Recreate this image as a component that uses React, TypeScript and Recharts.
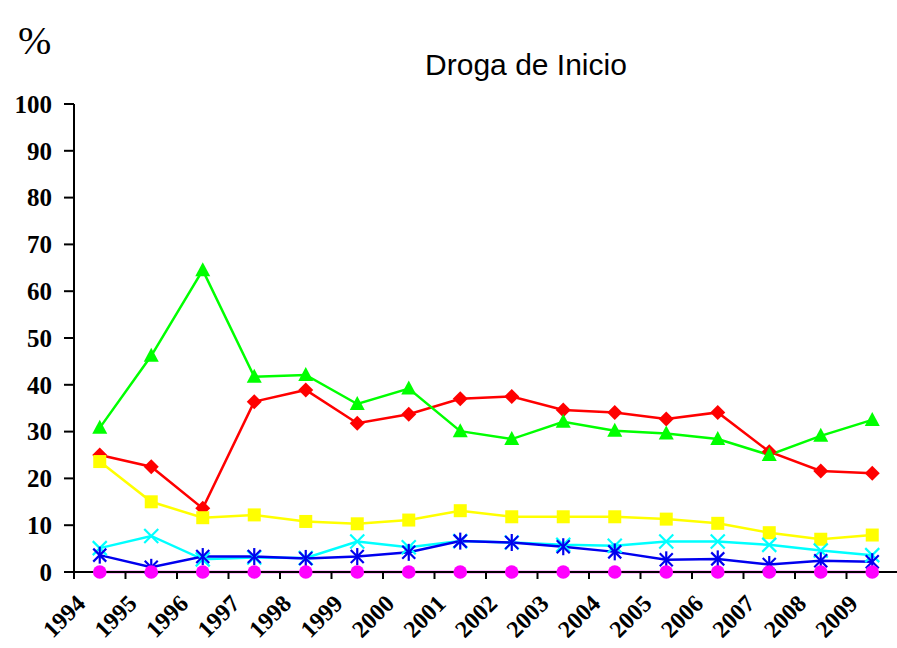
import { LineChart, Line, XAxis, YAxis } from "recharts";

const years = ["1994", "1995", "1996", "1997", "1998", "1999", "2000", "2001", "2002", "2003", "2004", "2005", "2006", "2007", "2008", "2009"];

const verde = [30.8, 46.2, 64.5, 41.7, 42.1, 35.9, 39.2, 30.1, 28.4, 32.1, 30.2, 29.6, 28.4, 25.0, 29.1, 32.5];
const rojo = [25.0, 22.5, 13.6, 36.4, 38.9, 31.8, 33.7, 37.0, 37.5, 34.6, 34.1, 32.7, 34.1, 25.7, 21.6, 21.1];
const amarillo = [23.6, 15.0, 11.6, 12.2, 10.8, 10.3, 11.1, 13.1, 11.8, 11.8, 11.8, 11.3, 10.4, 8.4, 7.0, 7.9];
const celeste = [5.1, 7.7, 2.7, 3.1, 3.0, 6.5, 5.3, 6.6, 6.3, 5.8, 5.6, 6.5, 6.5, 5.8, 4.6, 3.6];
const azul = [3.6, 1.0, 3.3, 3.3, 2.9, 3.3, 4.2, 6.6, 6.3, 5.4, 4.3, 2.6, 2.8, 1.6, 2.4, 2.2];
const magenta = [0, 0, 0, 0, 0, 0, 0, 0, 0, 0, 0, 0, 0, 0, 0, 0];

const yTicks = [0, 10, 20, 30, 40, 50, 60, 70, 80, 90, 100];

const data = years.map((year, i) => ({
  i,
  year,
  verde: verde[i],
  rojo: rojo[i],
  amarillo: amarillo[i],
  celeste: celeste[i],
  azul: azul[i],
  magenta: magenta[i],
}));

// tick marks sit between categories, labels go in the middle
const xTicks = [...years.map((_, i) => i - 0.5), years.length - 0.5];

const SERIF = "'Liberation Serif', 'Times New Roman', serif";

const Triangle = (p: any) => {
  const { cx, cy } = p;
  if (cx == null || cy == null) return <g key={p.index} />;
  return <polygon key={p.index} points={`${cx},${cy - 8} ${cx - 7.5},${cy + 6} ${cx + 7.5},${cy + 6}`} fill="#00ff00" />;
};

const Diamond = (p: any) => {
  const { cx, cy } = p;
  if (cx == null || cy == null) return <g key={p.index} />;
  return <polygon key={p.index} points={`${cx},${cy - 7.5} ${cx + 7.5},${cy} ${cx},${cy + 7.5} ${cx - 7.5},${cy}`} fill="#ff0000" />;
};

const Square = (p: any) => {
  const { cx, cy } = p;
  if (cx == null || cy == null) return <g key={p.index} />;
  return <rect key={p.index} x={cx - 6.5} y={cy - 6.5} width={13} height={13} fill="#ffff00" />;
};

const Cross = (p: any) => {
  const { cx, cy } = p;
  if (cx == null || cy == null) return <g key={p.index} />;
  const r = 7;
  return (
    <g key={p.index} stroke="#00ffff" strokeWidth={2.2}>
      <line x1={cx - r} y1={cy - r} x2={cx + r} y2={cy + r} />
      <line x1={cx - r} y1={cy + r} x2={cx + r} y2={cy - r} />
    </g>
  );
};

const Star = (p: any) => {
  const { cx, cy } = p;
  if (cx == null || cy == null) return <g key={p.index} />;
  const r = 6.5;
  return (
    <g key={p.index} stroke="#0000ee" strokeWidth={2.2}>
      <line x1={cx - r} y1={cy - r} x2={cx + r} y2={cy + r} />
      <line x1={cx - r} y1={cy + r} x2={cx + r} y2={cy - r} />
      <line x1={cx} y1={cy - 8.5} x2={cx} y2={cy + 8.5} />
    </g>
  );
};

const Circle = (p: any) => {
  const { cx, cy } = p;
  if (cx == null || cy == null) return <g key={p.index} />;
  return <circle key={p.index} cx={cx} cy={cy} r={6.8} fill="#ff00ff" />;
};

const YearTick = (props: any) => {
  const { x, y, index } = props;
  const label = years[index];
  if (!label) return <g />;
  const ax = x + 25.75 - 13;
  const ay = y + 24;
  return (
    <text
      x={ax}
      y={ay}
      textAnchor="end"
      transform={`rotate(-45 ${ax} ${ay})`}
      fontFamily={SERIF}
      fontSize={24}
      fontWeight="bold"
      fill="#000"
    >
      {label}
    </text>
  );
};

export default function App() {
  return (
    <div style={{ position: "absolute", left: 0, top: 0, width: 897, height: 648, overflow: "hidden", background: "#fff" }}>
      <LineChart width={910} height={648} data={data} margin={{ top: 104, right: 12, bottom: 0, left: 0 }}>
        <XAxis
          dataKey="i"
          type="number"
          domain={[-0.5, years.length - 0.5]}
          ticks={xTicks}
          interval={0}
          height={76}
          tickSize={7}
          tick={<YearTick />}
          axisLine={{ stroke: "#000", strokeWidth: 2 }}
          tickLine={{ stroke: "#000", strokeWidth: 2 }}
        />
        <YAxis
          type="number"
          domain={[0, 100]}
          ticks={yTicks}
          interval={0}
          width={74}
          tickSize={10}
          tickMargin={12}
          axisLine={{ stroke: "#000", strokeWidth: 2 }}
          tickLine={{ stroke: "#000", strokeWidth: 2 }}
          tick={{ fontFamily: SERIF, fontSize: 25, fontWeight: "bold", fill: "#000" }}
        />
        <Line type="linear" dataKey="rojo" stroke="#ff0000" strokeWidth={2.5} dot={Diamond} isAnimationActive={false} />
        <Line type="linear" dataKey="verde" stroke="#00ff00" strokeWidth={2.5} dot={Triangle} isAnimationActive={false} />
        <Line type="linear" dataKey="amarillo" stroke="#ffff00" strokeWidth={2.5} dot={Square} isAnimationActive={false} />
        <Line type="linear" dataKey="celeste" stroke="#00ffff" strokeWidth={2.5} dot={Cross} isAnimationActive={false} />
        <Line type="linear" dataKey="azul" stroke="#0000ee" strokeWidth={2.5} dot={Star} isAnimationActive={false} />
        <Line type="linear" dataKey="magenta" stroke="#ff00ff" strokeWidth={2.5} dot={Circle} isAnimationActive={false} />
      </LineChart>
      <svg width={897} height={648} style={{ position: "absolute", left: 0, top: 0, pointerEvents: "none" }}>
        <text x={18} y={54} fontFamily={SERIF} fontSize={40} fill="#000">%</text>
        <text x={526} y={75} textAnchor="middle" fontFamily="'Liberation Sans', Arial, sans-serif" fontSize={30} fill="#000">
          Droga de Inicio
        </text>
      </svg>
    </div>
  );
}
